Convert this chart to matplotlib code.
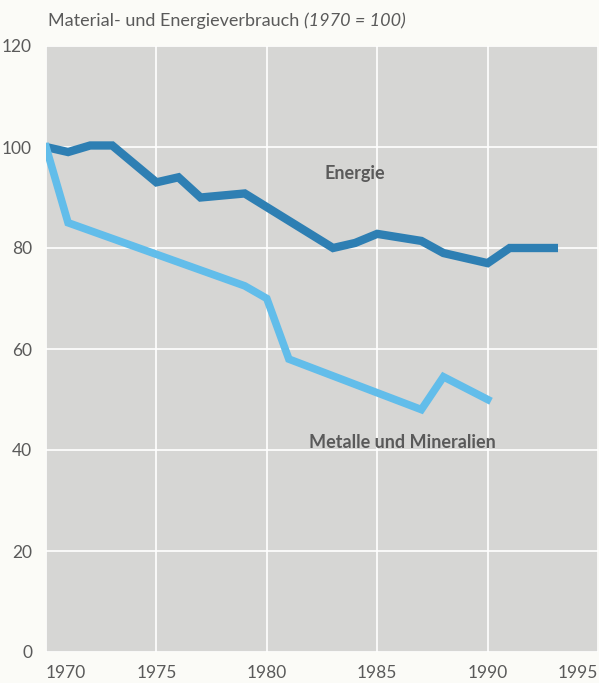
import numpy as np
import matplotlib.pyplot as plt

# Energy index (1970 = 100)
energie_jahre = [1970, 1971, 1972, 1973, 1975, 1976, 1977, 1979, 1983, 1984, 1985, 1987, 1988, 1990, 1991, 1993]
energie_werte = [100, 99, 100.3, 100.3, 93, 94, 90, 90.8, 80, 81, 82.8, 81.4, 79, 77, 80, 80]

# Metals and minerals index (1970 = 100)
metall_jahre = [1970, 1971, 1979, 1980, 1981, 1987, 1988, 1990]
metall_werte = [100, 85, 72.5, 70, 58, 48, 54.5, 50]

x_ticks = [1970, 1975, 1980, 1985, 1990, 1995]
y_ticks = [0, 20, 40, 60, 80, 100, 120]

plt.rcParams['font.family'] = ['Lato', 'DejaVu Sans']
text_col = "#5a5a5a"

fig = plt.figure(figsize=(5.99, 6.83), dpi=100, facecolor="#fbfbf7")
ax = fig.add_axes([46/599, (683-652)/683, 552/599, 606/683])
ax.set_facecolor("#d6d6d4")

ax.plot(energie_jahre, energie_werte, color="#2e7fb3", lw=6, solid_joinstyle="miter", zorder=3)
ax.plot(metall_jahre, metall_werte, color="#62bdea", lw=5.5, solid_joinstyle="miter", zorder=3)

ax.set_xlim(1970, 1995)
ax.set_ylim(0, 120)
ax.set_xticks(x_ticks)
ax.set_yticks(y_ticks)
ax.grid(True, color="white", lw=1.2)
ax.set_axisbelow(True)
for s in ax.spines.values():
    s.set_visible(False)
ax.tick_params(length=0, labelsize=12.5, labelcolor=text_col)
ax.tick_params(axis="x", pad=9)
ax.tick_params(axis="y", pad=10)
xl = ax.get_xticklabels()
xl[0].set_horizontalalignment("left")
xl[-1].set_horizontalalignment("right")

ax.text(1982.6, 94.8, "Energie", color=text_col, fontsize=13, fontweight="bold", va="center")
ax.text(1981.9, 41.4, "Metalle und Mineralien", color=text_col, fontsize=13, fontweight="bold", va="center")

# title: upright part, then italic part right after it
t1 = fig.text(48/599, 1 - 21/683, "Material- und Energieverbrauch", color=text_col, fontsize=13, va="center")
fig.canvas.draw()
bb = t1.get_window_extent()
fig.text((bb.x1 + 5)/599, 1 - 21/683, "(1970 = 100)", color=text_col, fontsize=13, style="italic", va="center")

fig.savefig("out.png", dpi=100, facecolor=fig.get_facecolor())
